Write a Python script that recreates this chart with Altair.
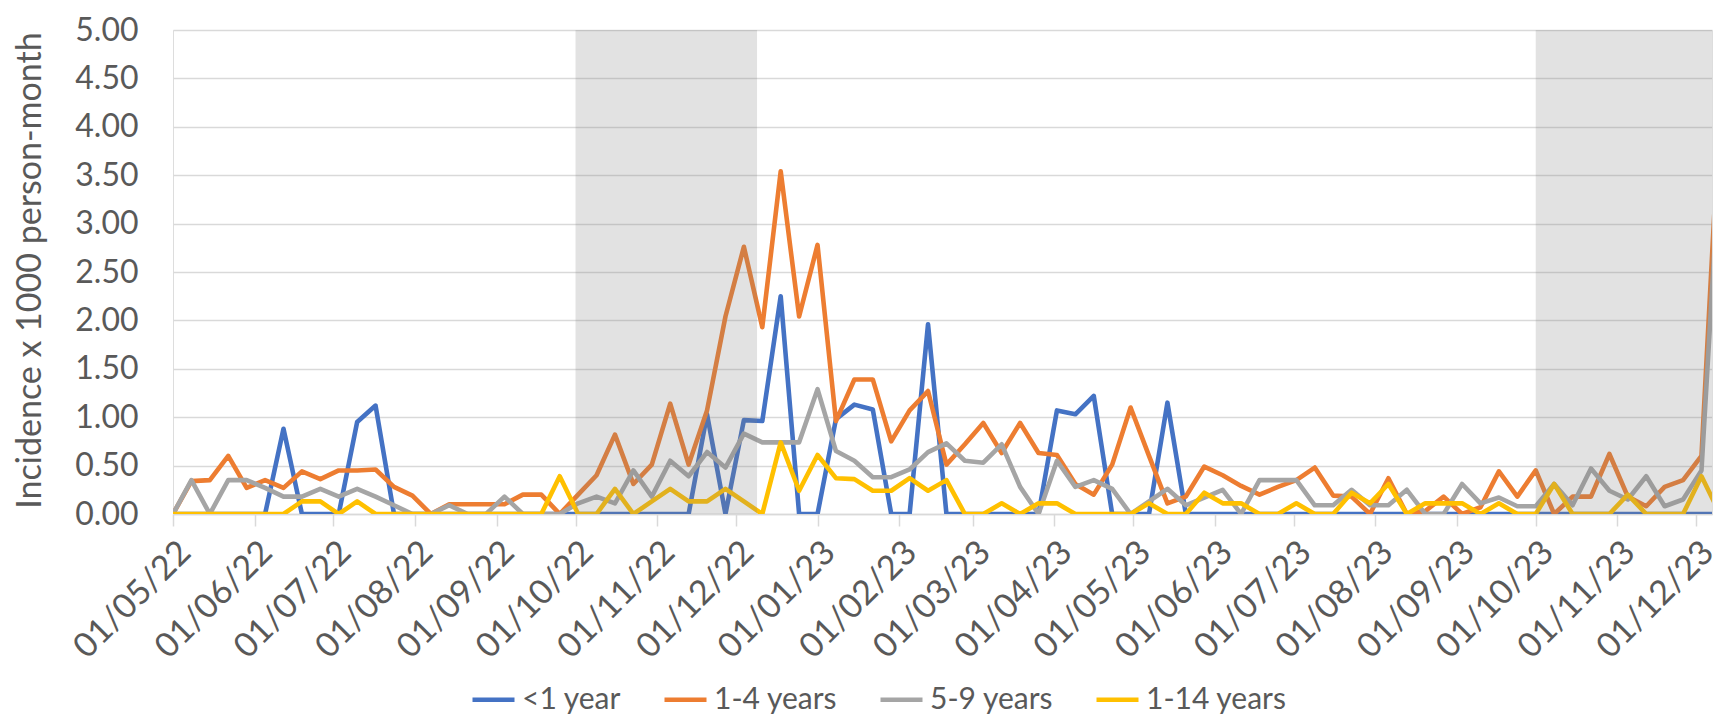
import altair as alt
import pandas as pd

# ---------------- data (weekly, starting 01/05/2022) ----------------
week_start = "2022-05-01"
series_names = ["<1 year", "1-4 years", "5-9 years", "1-14 years"]
series_colors = ["#4472C4", "#ED7D31", "#A5A5A5", "#FFC000"]

under_1 = [0, 0, 0, 0, 0, 0, 0.88, 0, 0, 0, 0.95, 1.12,
           0, 0, 0, 0, 0, 0, 0, 0, 0, 0, 0, 0, 0, 0, 0, 0, 0,
           1.03, 0, 0.97, 0.96, 2.25, 0, 0, 0.98, 1.13, 1.08, 0, 0, 1.96,
           0, 0, 0, 0, 0, 0, 1.07, 1.03, 1.22, 0, 0, 0, 1.15,
           0, 0, 0, 0, 0, 0, 0, 0, 0, 0, 0, 0, 0, 0, 0,
           0, 0, 0, 0, 0, 0, 0, 0, 0, 0, 0, 0, 0, 0, 0]

age_1_4 = [0, 0.34, 0.35, 0.60, 0.27, 0.35, 0.27, 0.44, 0.36, 0.45, 0.45, 0.46,
           0.28, 0.19, 0, 0.10, 0.10, 0.10, 0.10, 0.20, 0.20, 0, 0.20, 0.40,
           0.82, 0.31, 0.51, 1.14, 0.51, 1.07, 2.04, 2.76, 1.93, 3.54, 2.04, 2.78,
           0.96, 1.39, 1.39, 0.75, 1.07, 1.27, 0.51, 0.72, 0.94, 0.63, 0.94, 0.63,
           0.61, 0.31, 0.20, 0.51, 1.10, 0.60, 0.11, 0.18, 0.49, 0.40, 0.29, 0.20,
           0.28, 0.35, 0.48, 0.19, 0.18, 0, 0.37, 0, 0.03, 0.18, 0, 0.07,
           0.44, 0.18, 0.45, 0, 0.18, 0.18, 0.62, 0.18, 0.08, 0.28, 0.35, 0.60,
           4.2]

age_5_9 = [0, 0.35, 0, 0.35, 0.35, 0.27, 0.18, 0.18, 0.26, 0.18, 0.26, 0.18,
           0.09, 0, 0, 0.09, 0, 0, 0.18, 0, 0, 0, 0.11, 0.18,
           0.11, 0.45, 0.18, 0.55, 0.39, 0.64, 0.48, 0.83, 0.74, 0.74, 0.74, 1.29,
           0.65, 0.55, 0.38, 0.38, 0.46, 0.64, 0.73, 0.55, 0.53, 0.72, 0.28, 0,
           0.55, 0.28, 0.35, 0.26, 0, 0.13, 0.26, 0.09, 0.17, 0.25, 0, 0.35,
           0.35, 0.35, 0.09, 0.09, 0.25, 0.09, 0.09, 0.25, 0, 0, 0.31, 0.11,
           0.17, 0.08, 0.08, 0.31, 0.09, 0.47, 0.24, 0.15, 0.39, 0.08, 0.15, 0.45,
           3.7]

age_1_14 = [0, 0, 0, 0, 0, 0, 0, 0.13, 0.13, 0, 0.13, 0,
            0, 0, 0, 0, 0, 0, 0, 0, 0, 0.39, 0, 0,
            0.26, 0, 0.13, 0.26, 0.13, 0.13, 0.26, 0.13, 0, 0.74, 0.24, 0.61,
            0.37, 0.36, 0.24, 0.24, 0.37, 0.24, 0.35, 0, 0, 0.11, 0, 0.11,
            0.11, 0, 0, 0, 0, 0.11, 0, 0, 0.22, 0.11, 0.11, 0,
            0, 0.11, 0, 0, 0.22, 0.11, 0.31, 0, 0.11, 0.11, 0.11, 0,
            0.11, 0, 0, 0.31, 0, 0, 0, 0.20, 0, 0, 0, 0.39,
            0]

y_ticks = [0, 0.5, 1, 1.5, 2, 2.5, 3, 3.5, 4, 4.5, 5]
tick_dates = ["2022-05-01", "2022-06-01", "2022-07-01", "2022-08-01", "2022-09-01",
              "2022-10-01", "2022-11-01", "2022-12-01", "2023-01-01", "2023-02-01",
              "2023-03-01", "2023-04-01", "2023-05-01", "2023-06-01", "2023-07-01",
              "2023-08-01", "2023-09-01", "2023-10-01", "2023-11-01", "2023-12-01"]
shade_start = ["2022-10-01", "2023-10-01"]
shade_end = ["2022-12-09", "2023-12-07"]
x_domain = ["2022-05-01", "2023-12-07"]

y_title = "Incidence x 1000 person-month"

# ---------------- tables ----------------
dates = pd.date_range(week_start, periods=len(under_1), freq="7D")
frames = []
for name, vals in zip(series_names, [under_1, age_1_4, age_5_9, age_1_14]):
    frames.append(pd.DataFrame({"date": dates, "value": vals, "group": name}))
df = pd.concat(frames, ignore_index=True)

shade_df = pd.DataFrame({"start": pd.to_datetime(shade_start),
                         "end": pd.to_datetime(shade_end)})


def dt(s):
    d = pd.Timestamp(s)
    return alt.DateTime(year=d.year, month=d.month, date=d.day)


FONT = "Lato"
TXT = "#595959"
W, H = 1539, 484

x_scale = alt.Scale(domain=[dt(x_domain[0]), dt(x_domain[1])], nice=False)
y_scale = alt.Scale(domain=[0, 5], nice=False)

x_axis = alt.Axis(values=[dt(t) for t in tick_dates], format="%d/%m/%y",
                  labelAngle=-45, labelFontSize=34, labelFont=FONT, labelColor=TXT,
                  tickSize=12, tickWidth=1.5, tickColor="#D9D9D9",
                  domainColor="#D9D9D9", domainWidth=1.5, grid=False,
                  labelPadding=9, labelOverlap=False, labelFlush=False,
                  labelBound=False, title=None)
y_axis = alt.Axis(values=y_ticks, format=".2f", labelFontSize=32, labelFont=FONT,
                  labelColor=TXT, ticks=False, tickSize=0, domain=False,
                  labelPadding=35, grid=True, gridColor="#D9D9D9", gridWidth=1.5,
                  title=y_title, titleFont=FONT, titleFontSize=34,
                  titleFontWeight="normal", titleColor=TXT, titleAngle=270,
                  titleX=-143, titleY=H / 2 - 2, titleAlign="center",
                  titleBaseline="middle")

color = alt.Color("group:N",
                  scale=alt.Scale(domain=series_names, range=series_colors),
                  legend=alt.Legend(orient="none", legendX=297, legendY=646,
                                    direction="horizontal", columns=4, title=None,
                                    labelFont=FONT, labelFontSize=30, labelColor=TXT,
                                    labelLimit=400, symbolType="stroke",
                                    symbolSize=1764, symbolStrokeWidth=4.5,
                                    labelOffset=5, columnPadding=33, padding=0))

layers = []
for name in series_names:
    layers.append(
        alt.Chart(df).transform_filter(alt.datum.group == name)
        .mark_line(strokeWidth=4.6, strokeJoin="round", strokeCap="round", clip=True)
        .encode(x=alt.X("date:T", scale=x_scale, axis=x_axis),
                y=alt.Y("value:Q", scale=y_scale, axis=y_axis),
                color=color)
    )

shade = alt.Chart(shade_df).mark_rect(color="#808080", opacity=0.23, clip=True).encode(
    x=alt.X("start:T", scale=x_scale),
    x2="end:T",
    y=alt.YDatum(5),
    y2=alt.Y2Datum(0),
)

chart = alt.layer(*layers, shade).properties(
    width=W, height=H,
    autosize=alt.AutoSizeParams(type="none"),
    padding={"left": 165, "top": 22, "right": 4, "bottom": 201},
).configure_view(stroke=None).configure(background="white")

chart.save("out.html", embed_options={"renderer": "svg", "actions": False})
